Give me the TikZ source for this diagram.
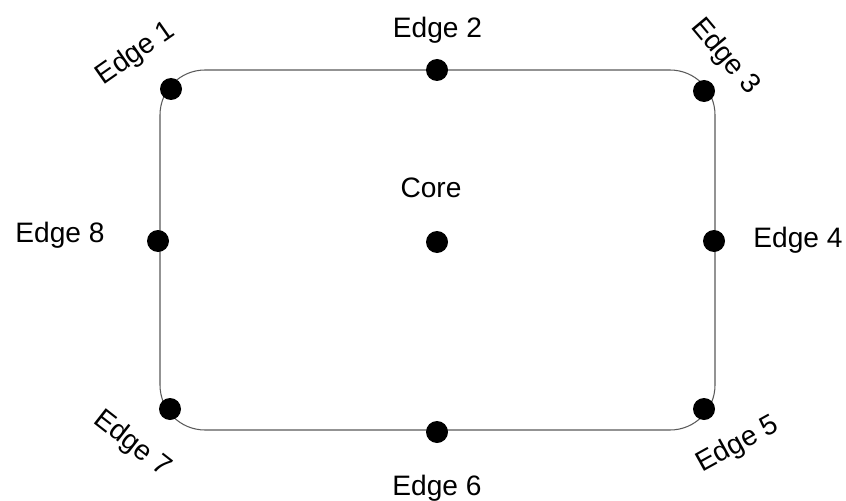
\documentclass[tikz,border=0pt]{standalone}
\usepackage{fontspec}
\setmainfont{Liberation Sans}
\usepackage{tikz}
\usetikzlibrary{positioning}

\begin{document}
\begin{tikzpicture}[
    region/.style={
        draw=black!65,
        line width=0.6pt,
        rounded corners=0.9cm
    },
    site/.style={
        circle,
        fill=black,
        inner sep=0pt,
        minimum size=0.44cm
    },
    lbl/.style={
        font=\fontsize{16}{18}\selectfont,
        inner sep=1pt
    }
]
\useasboundingbox (0,0) rectangle (16.92,-10.02);

% Zona
\draw[region] (3.2,-1.4) rectangle (14.3,-8.6);

% Puntos
\node[site] (core) at (8.74,-4.84) {};
\node[site] (e1) at (3.42,-1.78) {};
\node[site] (e2) at (8.74,-1.40) {};
\node[site] (e3) at (14.08,-1.82) {};
\node[site] (e4) at (14.28,-4.82) {};
\node[site] (e5) at (14.08,-8.18) {};
\node[site] (e6) at (8.74,-8.64) {};
\node[site] (e7) at (3.40,-8.18) {};
\node[site] (e8) at (3.16,-4.82) {};

% Etiquetas
\node[lbl] (lcore) at (8.62,-3.76) {Core};
\node[lbl, rotate=35] (l1) at (2.72,-1.08) {Edge 1};
\node[lbl] (l2) at (8.75,-0.60) {Edge 2};
\node[lbl, rotate=-50] (l3) at (14.50,-1.14) {Edge 3};
\node[lbl] (l4) at (15.96,-4.80) {Edge 4};
\node[lbl, rotate=29] (l5) at (14.76,-8.90) {Edge 5};
\node[lbl] (l6) at (8.74,-9.76) {Edge 6};
\node[lbl, rotate=-38] (l7) at (2.64,-8.88) {Edge 7};
\node[lbl] (l8) at (1.20,-4.70) {Edge 8};

\end{tikzpicture}
\end{document}
